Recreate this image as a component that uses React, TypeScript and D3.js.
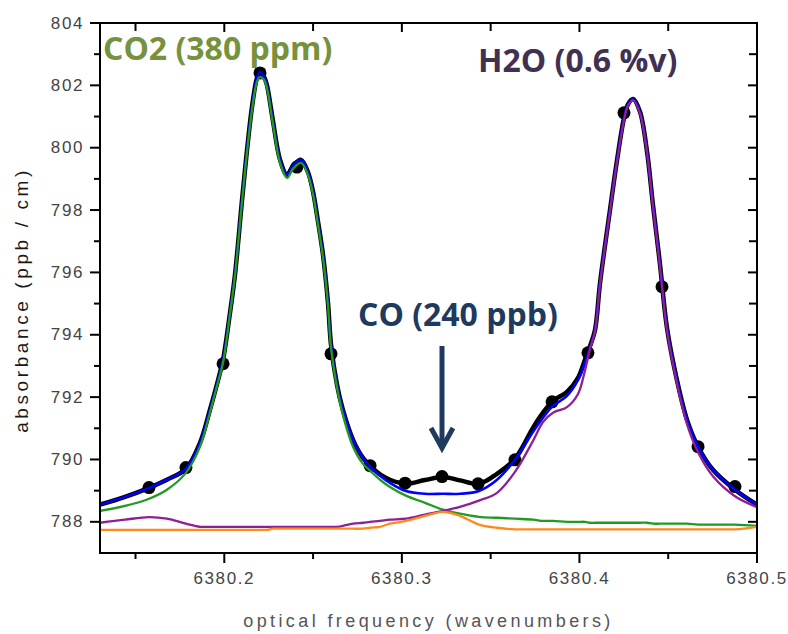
import React from "react";
import * as d3 from "d3";

// optical frequency grid (wavenumbers) that the curves were read at
const freq = [
  6380.13, 6380.1441, 6380.1576, 6380.1677, 6380.1784, 6380.1863, 6380.1919, 6380.1965, 6380.1993, 6380.2032,
  6380.206, 6380.21, 6380.2128, 6380.2156, 6380.2184, 6380.2201, 6380.2224, 6380.224, 6380.2274, 6380.2314,
  6380.2353, 6380.2387, 6380.2432, 6380.2471, 6380.25, 6380.2528, 6380.2556, 6380.2584, 6380.2601, 6380.2635,
  6380.2668, 6380.2725, 6380.2781, 6380.2821, 6380.2877, 6380.2933, 6380.3023, 6380.313, 6380.3232, 6380.3327,
  6380.3434, 6380.3536, 6380.3637, 6380.3739, 6380.3795, 6380.3851, 6380.393, 6380.3992, 6380.4031, 6380.406,
  6380.4088, 6380.4116, 6380.4172, 6380.4212, 6380.4251, 6380.4274, 6380.4302, 6380.4341, 6380.4381, 6380.4414,
  6380.4454, 6380.4493, 6380.4549, 6380.4606, 6380.4668, 6380.4752, 6380.4876, 6380.5,
];

// measured spectrum (black)
const measured = [
  788.55, 788.8, 789.09, 789.35, 789.7, 790.53, 791.59, 792.55, 793.2, 794.7,
  795.92, 798.33, 799.93, 801.31, 802.24, 802.43, 802.27, 802.01, 800.86, 799.61,
  799.13, 799.42, 799.61, 799.22, 798.58, 797.62, 796.56, 795.02, 793.68, 792.39,
  791.59, 790.63, 790.05, 789.8, 789.52, 789.35, 789.22, 789.34, 789.44, 789.33,
  789.22, 789.54, 790.02, 791.02, 791.5, 791.88, 792.17, 792.62, 793.2, 793.64,
  794.16, 795.66, 798.0, 799.61, 800.95, 801.4, 801.56, 801.15, 799.86, 798.17,
  796.24, 794.22, 792.55, 791.27, 790.41, 789.67, 789.03, 788.55,
];

// total fit (blue)
const totalFit = [
  788.55, 788.8, 789.09, 789.35, 789.7, 790.53, 791.59, 792.55, 793.2, 794.7,
  795.92, 798.33, 799.93, 801.31, 802.24, 802.43, 802.27, 802.01, 800.86, 799.61,
  799.13, 799.42, 799.61, 799.22, 798.58, 797.62, 796.56, 795.02, 793.68, 792.39,
  791.59, 790.63, 790.05, 789.76, 789.48, 789.25, 788.99, 788.9, 788.9, 788.9,
  788.99, 789.35, 789.99, 790.89, 791.34, 791.72, 792.04, 792.55, 793.1, 793.58,
  794.16, 795.66, 798.0, 799.61, 800.95, 801.4, 801.56, 801.15, 799.86, 798.17,
  796.24, 794.22, 792.55, 791.27, 790.41, 789.67, 789.03, 788.55,
];

// CO2 component (green)
const co2Fit = [
  788.35, 788.51, 788.74, 789.03, 789.57, 790.41, 791.5, 792.49, 793.1, 794.67,
  795.89, 798.29, 799.86, 801.21, 802.11, 802.27, 802.17, 801.92, 800.76, 799.51,
  799.03, 799.32, 799.51, 799.13, 798.49, 797.52, 796.47, 794.93, 793.58, 792.3,
  791.43, 790.41, 789.86, 789.64, 789.35, 789.12, 788.84, 788.61, 788.39, 788.26,
  788.16, 788.13, 788.1, 788.07, 788.03, 788.03, 788.0, 788.0, 788.0, 787.97,
  787.97, 787.97, 787.97, 787.97, 787.97, 787.97, 787.97, 787.97, 787.97, 787.94,
  787.94, 787.94, 787.94, 787.94, 787.91, 787.91, 787.91, 787.87,
];

// H2O component (purple)
const h2oFit = [
  787.97, 788.07, 788.15, 788.1, 787.94, 787.84, 787.84, 787.84, 787.84, 787.84,
  787.84, 787.84, 787.84, 787.84, 787.84, 787.84, 787.84, 787.84, 787.84, 787.84,
  787.84, 787.84, 787.84, 787.84, 787.84, 787.84, 787.84, 787.84, 787.84, 787.84,
  787.87, 787.94, 787.97, 788.0, 788.03, 788.07, 788.1, 788.23, 788.35, 788.48,
  788.68, 788.93, 789.6, 790.6, 791.2, 791.5, 791.68, 792.1, 792.85, 793.55,
  794.12, 795.62, 797.96, 799.56, 800.88, 801.36, 801.52, 801.1, 799.82, 798.12,
  796.17, 794.15, 792.45, 791.13, 790.23, 789.46, 788.82, 788.47,
];

// CO component (orange)
const coFit = [
  787.74, 787.74, 787.74, 787.74, 787.74, 787.74, 787.74, 787.74, 787.74, 787.74,
  787.74, 787.74, 787.74, 787.74, 787.74, 787.74, 787.74, 787.74, 787.78, 787.78,
  787.78, 787.78, 787.78, 787.78, 787.78, 787.78, 787.78, 787.78, 787.78, 787.78,
  787.78, 787.78, 787.78, 787.81, 787.84, 787.94, 788.03, 788.19, 788.32, 788.19,
  787.91, 787.81, 787.76, 787.76, 787.76, 787.76, 787.76, 787.76, 787.76, 787.76,
  787.76, 787.76, 787.76, 787.76, 787.76, 787.76, 787.76, 787.76, 787.76, 787.76,
  787.76, 787.76, 787.76, 787.76, 787.76, 787.76, 787.76, 787.84,
];

// measured points shown as markers
const dotFreq = [
  6380.1576, 6380.1784, 6380.1993, 6380.2201, 6380.2409, 6380.2601, 6380.2821, 6380.3018, 6380.3226,
  6380.3429, 6380.3637, 6380.3846, 6380.4048, 6380.4251, 6380.4465, 6380.4668, 6380.4876,
];
const dotValues = [
  789.1, 789.74, 793.07, 802.4, 799.38, 793.39, 789.8, 789.24, 789.45,
  789.22, 789.99, 791.85, 793.42, 801.12, 795.54, 790.41, 789.13,
];

const xTicks = [6380.2, 6380.3, 6380.4, 6380.5];
const xMinor = [6380.15, 6380.25, 6380.35, 6380.45];
const yTicks = [788, 790, 792, 794, 796, 798, 800, 802, 804];
const yMinor = [789, 791, 793, 795, 797, 799, 801, 803];

const W = 788;
const H = 634;
const plot = { left: 100, right: 757, top: 23, bottom: 553 };

export default function App() {
  const x = d3.scaleLinear().domain([6380.13, 6380.5]).range([plot.left, plot.right]);
  const y = d3.scaleLinear().domain([787, 804]).range([plot.bottom, plot.top]);

  const line = d3
    .line<number>()
    .x((_, i) => x(freq[i]))
    .y((d) => y(d))
    .curve(d3.curveCatmullRom.alpha(0.5));

  const tickFont = { fontFamily: "Liberation Sans, Arial, sans-serif", fontSize: 17, fill: "#444", letterSpacing: 1.6 };
  const arrowX = x(6380.3226);

  return (
    <svg
      width={W}
      height={H}
      style={{ position: "absolute", left: 0, top: 0, background: "#fff" }}
    >
      <defs>
        <clipPath id="plotClip">
          <rect x={plot.left} y={plot.top} width={plot.right - plot.left} height={plot.bottom - plot.top} />
        </clipPath>
      </defs>

      {/* curves */}
      <g clipPath="url(#plotClip)" fill="none" strokeLinejoin="round">
        <path d={line(measured) || ""} stroke="#000" strokeWidth={4.5} />
        {dotFreq.map((f, i) => (
          <circle key={i} cx={x(f)} cy={y(dotValues[i])} r={6.5} fill="#000" stroke="none" />
        ))}
        <path d={line(totalFit) || ""} stroke="#0000ff" strokeWidth={2.6} />
        <path d={line(co2Fit) || ""} stroke="#229a22" strokeWidth={2.3} />
        <path d={line(h2oFit) || ""} stroke="#8e1f96" strokeWidth={2.3} />
        <path d={line(coFit) || ""} stroke="#ff8a1c" strokeWidth={2.3} />
      </g>

      {/* frame */}
      <rect
        x={plot.left}
        y={plot.top}
        width={plot.right - plot.left}
        height={plot.bottom - plot.top}
        fill="none"
        stroke="#000"
        strokeWidth={2}
      />

      {/* ticks: bottom/left outward, top/right inward */}
      <g stroke="#000" strokeWidth={2}>
        {xTicks.map((t) => (
          <g key={t}>
            <line x1={x(t)} x2={x(t)} y1={plot.bottom} y2={plot.bottom + 10} />
            <line x1={x(t)} x2={x(t)} y1={plot.top} y2={plot.top + 9} />
          </g>
        ))}
        {xMinor.map((t) => (
          <g key={t}>
            <line x1={x(t)} x2={x(t)} y1={plot.bottom} y2={plot.bottom + 6} />
            <line x1={x(t)} x2={x(t)} y1={plot.top} y2={plot.top + 8} />
          </g>
        ))}
        {yTicks.map((t) => (
          <g key={t}>
            <line x1={plot.left - 10} x2={plot.left} y1={y(t)} y2={y(t)} />
            <line x1={plot.right - 9} x2={plot.right} y1={y(t)} y2={y(t)} />
          </g>
        ))}
        {yMinor.map((t) => (
          <g key={t}>
            <line x1={plot.left - 6} x2={plot.left} y1={y(t)} y2={y(t)} />
            <line x1={plot.right - 8} x2={plot.right} y1={y(t)} y2={y(t)} />
          </g>
        ))}
      </g>

      {/* tick labels */}
      <g style={tickFont}>
        {xTicks.map((t) => (
          <text key={t} x={x(t)} y={578} textAnchor="middle" dominantBaseline="central">
            {d3.format(".1f")(t)}
          </text>
        ))}
        {yTicks.map((t) => (
          <text key={t} x={plot.left - 16} y={y(t)} textAnchor="end" dominantBaseline="central">
            {t}
          </text>
        ))}
      </g>

      {/* axis titles */}
      <text
        x={(plot.left + plot.right) / 2}
        y={621}
        textAnchor="middle"
        dominantBaseline="central"
        style={{ fontFamily: "Liberation Sans, Arial, sans-serif", fontSize: 18, fill: "#555", letterSpacing: 3.4 }}
      >
        optical frequency (wavenumbers)
      </text>
      <text
        transform={`translate(21,${(plot.top + plot.bottom) / 2 + 12}) rotate(-90)`}
        textAnchor="middle"
        dominantBaseline="central"
        style={{ fontFamily: "Liberation Sans, Arial, sans-serif", fontSize: 19, fill: "#1a1a1a", letterSpacing: 3.6 }}
      >
        absorbance (ppb / cm)
      </text>

      {/* annotations */}
      <g style={{ fontFamily: "Open Sans, sans-serif", fontWeight: 700, fontSize: 32 }}>
        <text x={103} y={60} fill="#76923c">CO2 (380 ppm)</text>
        <text x={478} y={72} fill="#403152">H2O (0.6 %v)</text>
        <text x={358} y={326} fill="#1f3a5f">CO (240 ppb)</text>
      </g>

      {/* arrow to the CO feature */}
      <g stroke="#1f3a5f" strokeWidth={5} fill="none" strokeLinecap="butt" strokeLinejoin="miter">
        <line x1={arrowX} x2={arrowX} y1={346} y2={447} />
        <polyline points={`${arrowX - 11},428 ${arrowX},448 ${arrowX + 11},428`} />
      </g>
    </svg>
  );
}
